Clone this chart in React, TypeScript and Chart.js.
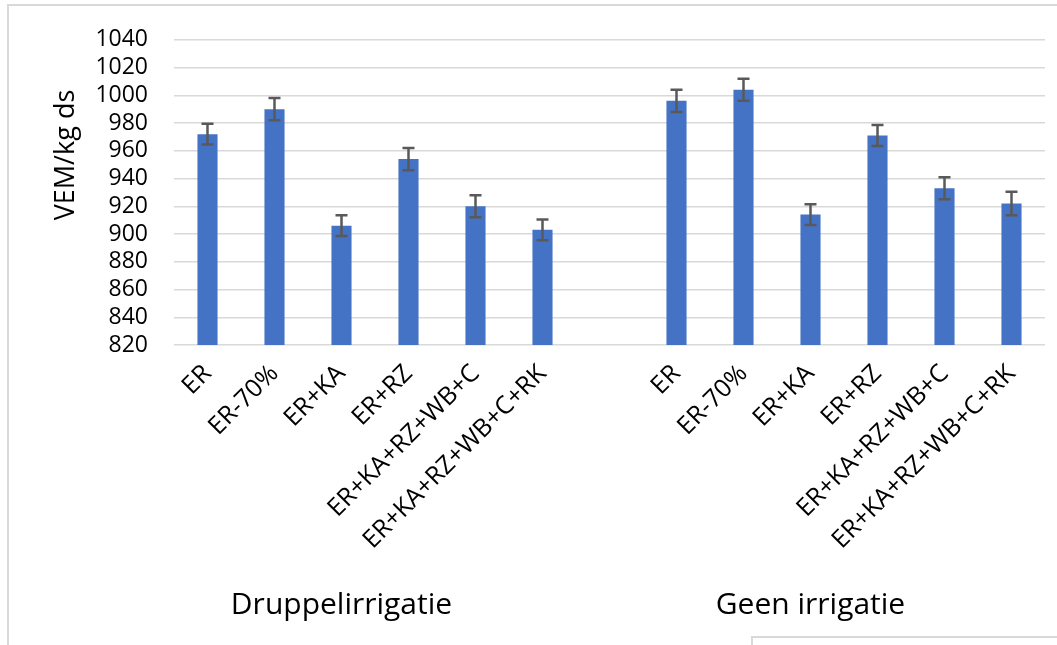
import React, { useEffect, useRef } from "react";
import { Chart, registerables } from "chart.js";

Chart.register(...registerables);

const categories: string[] = [
  "ER", "ER-70%", "ER+KA", "ER+RZ", "ER+KA+RZ+WB+C", "ER+KA+RZ+WB+C+RK",
  "",
  "ER", "ER-70%", "ER+KA", "ER+RZ", "ER+KA+RZ+WB+C", "ER+KA+RZ+WB+C+RK",
];
const groupLabels: string[] = ["Druppelirrigatie", "Geen irrigatie"];
const groupSize = 6;
const druppelValues: number[] = [972, 990, 906, 954, 920, 903];
const druppelErrors: number[] = [7.5, 8, 7.5, 8, 8, 7.5];
const geenValues: number[] = [996, 1004, 914, 971, 933, 922];
const geenErrors: number[] = [8, 8, 7.5, 7.5, 8, 8.5];
const yMin = 820;
const yMax = 1040;
const yStep = 20;
const yTitle = "VEM/kg ds";

const values: (number | null)[] = [...druppelValues, null, ...geenValues];
const errors: (number | null)[] = [...druppelErrors, null, ...geenErrors];

const FONT = "'Open Sans', 'Noto Sans', sans-serif";

const errorBarPlugin = {
  id: "errorBars",
  afterDatasetsDraw(chart: any) {
    const { ctx } = chart;
    const x = chart.scales.x;
    const y = chart.scales.y;
    ctx.save();
    ctx.strokeStyle = "#595959";
    ctx.lineWidth = 2.5;
    values.forEach((v, i) => {
      const e = errors[i];
      if (v == null || e == null) return;
      const px = x.getPixelForValue(i);
      const top = y.getPixelForValue(v + e);
      const bot = y.getPixelForValue(v - e);
      const cap = 6;
      ctx.beginPath();
      ctx.moveTo(px, top);
      ctx.lineTo(px, bot);
      ctx.moveTo(px - cap, top);
      ctx.lineTo(px + cap, top);
      ctx.moveTo(px - cap, bot);
      ctx.lineTo(px + cap, bot);
      ctx.stroke();
    });
    ctx.restore();
  },
};

const labelsPlugin = {
  id: "extraLabels",
  afterDraw(chart: any) {
    const { ctx, chartArea } = chart;
    const x = chart.scales.x;
    ctx.save();
    ctx.fillStyle = "#000000";
    ctx.font = `30px ${FONT}`;
    ctx.textAlign = "center";
    ctx.textBaseline = "middle";
    groupLabels.forEach((g, gi) => {
      const start = gi * (groupSize + 1);
      const centerIdx = start + (groupSize - 1) / 2 - 0.5;
      ctx.fillText(g, x.getPixelForValue(centerIdx), 605);
    });
    ctx.font = `27px ${FONT}`;
    ctx.translate(chartArea.left - 108, 155);
    ctx.rotate(-Math.PI / 2);
    ctx.fillText(yTitle, 0, 0);
    ctx.restore();
  },
};

export default function App() {
  const ref = useRef<HTMLCanvasElement | null>(null);
  useEffect(() => {
    if (!ref.current) return;
    const chart = new Chart(ref.current, {
      type: "bar",
      data: {
        labels: categories,
        datasets: [
          {
            data: values as any,
            backgroundColor: "#4472C4",
            borderWidth: 0,
            barPercentage: 0.3,
            categoryPercentage: 1,
          },
        ],
      },
      options: {
        responsive: false,
        animation: false,
        devicePixelRatio: 1,
        layout: { padding: { top: 38, right: 12, bottom: 0, left: 0 } },
        plugins: { legend: { display: false }, tooltip: { enabled: false } },
        scales: {
          x: {
            grid: { display: false, drawTicks: false },
            border: { display: false },
            ticks: {
              color: "#000000",
              font: { family: FONT, size: 25 },
              maxRotation: 45,
              minRotation: 45,
              autoSkip: false,
              padding: 14,
            },
            afterFit: (s: any) => {
              s.height = 300;
            },
          },
          y: {
            min: yMin,
            max: yMax,
            grid: { color: "#d9d9d9", lineWidth: 1.5, drawTicks: false },
            border: { display: false },
            ticks: {
              stepSize: yStep,
              autoSkip: false,
              color: "#000000",
              font: { family: FONT, size: 23 },
              padding: 26,
              callback: (v: any) => String(v),
            },
            afterFit: (s: any) => {
              s.width = 174;
            },
          },
        },
      },
      plugins: [errorBarPlugin, labelsPlugin],
    });
    return () => chart.destroy();
  }, []);

  return (
    <div style={{ position: "absolute", left: 0, top: 0, width: 1057, height: 645, overflow: "hidden", background: "#fff" }}>
      <div style={{ position: "absolute", left: 7, top: 4, width: 1200, height: 800, borderLeft: "2px solid #d9d9d9", borderTop: "2px solid #d9d9d9" }} />
      <div style={{ position: "absolute", left: 751, top: 636, width: 400, height: 100, border: "2px solid #d9d9d9" }} />
      <canvas ref={ref} width={1057} height={645} style={{ position: "absolute", left: 0, top: 0 }} />
    </div>
  );
}
